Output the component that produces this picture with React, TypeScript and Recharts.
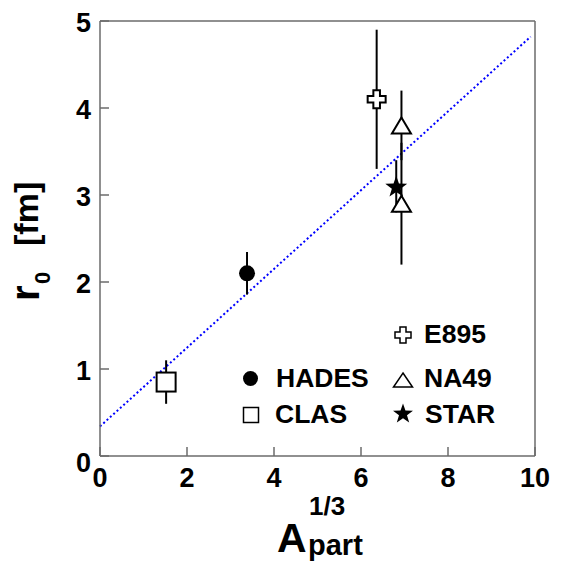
import React from 'react';
import { ScatterChart, Scatter, XAxis, YAxis, ErrorBar, ReferenceLine } from 'recharts';

// measured points, r0 [fm] vs A_part^(1/3)
const CLAS_X = [1.52];
const CLAS_Y = [0.85];
const CLAS_ERR = [0.25];

const HADES_X = [3.38];
const HADES_Y = [2.1];
const HADES_ERR = [0.245];

const E895_X = [6.36];
const E895_Y = [4.1];
const E895_ERR = [0.8];

const NA49_X = [6.93, 6.93];
const NA49_Y = [3.8, 2.9];
const NA49_ERR = [0.4, 0.7];

const STAR_X = [6.81];
const STAR_Y = [3.1];
const STAR_ERR = [0.3];

// linear fit endpoints
const FIT_X = [0, 9.9];
const FIT_Y = [0.34, 4.82];

const X_TICKS = [0, 2, 4, 6, 8, 10];
const Y_TICKS = [0, 1, 2, 3, 4, 5];

const FONT = '"Liberation Sans", Arial, Helvetica, sans-serif';
const FRAME = '#6b6b6b';

const zip = (xs: number[], ys: number[], errs: number[]) =>
  xs.map((x, i) => ({ x, y: ys[i], err: errs[i] }));

// marker shapes
const Dot = ({ cx, cy, r = 8 }: any) => <circle cx={cx} cy={cy} r={r} fill="black" />;

const Square = ({ cx, cy, s = 19, sw = 2 }: any) => (
  <rect x={cx - s / 2} y={cy - s / 2} width={s} height={s} fill="white" stroke="black" strokeWidth={sw} />
);

const Cross = ({ cx, cy, s = 9, a = 3.3, sw = 2 }: any) => {
  const p = [
    [-a, -s], [a, -s], [a, -a], [s, -a], [s, a], [a, a],
    [a, s], [-a, s], [-a, a], [-s, a], [-s, -a], [-a, -a],
  ].map(([dx, dy]) => `${cx + dx},${cy + dy}`).join(' ');
  return <polygon points={p} fill="white" stroke="black" strokeWidth={sw} />;
};

const Triangle = ({ cx, cy, w = 19, h = 16, sw = 2 }: any) => (
  <polygon
    points={`${cx},${cy - h / 2} ${cx + w / 2},${cy + h / 2} ${cx - w / 2},${cy + h / 2}`}
    fill="white"
    stroke="black"
    strokeWidth={sw}
  />
);

const Star = ({ cx, cy, ro = 11.5, ri = 4.6 }: any) => {
  const pts: string[] = [];
  for (let i = 0; i < 10; i++) {
    const r = i % 2 === 0 ? ro : ri;
    const ang = -Math.PI / 2 + (i * Math.PI) / 5;
    pts.push(`${cx + r * Math.cos(ang)},${cy + 1 + r * Math.sin(ang)}`);
  }
  return <polygon points={pts.join(' ')} fill="black" />;
};

const XTick = ({ x, y, payload }: any) => (
  <g>
    <line x1={x} y1={y} x2={x} y2={y - 9} stroke={FRAME} strokeWidth={1.5} />
    <text x={x} y={y + 31} textAnchor="middle" fontFamily={FONT} fontWeight="bold" fontSize={27} fill="black">
      {payload.value}
    </text>
  </g>
);

const YTick = ({ x, y, payload }: any) => (
  <g>
    <line x1={x} y1={y} x2={x + 9} y2={y} stroke={FRAME} strokeWidth={1.5} />
    <text
      x={x - 9}
      y={y + (payload.value === 0 ? 6 : 1)}
      dy="0.36em"
      textAnchor="end"
      fontFamily={FONT}
      fontWeight="bold"
      fontSize={27}
      fill="black"
    >
      {payload.value}
    </text>
  </g>
);

const legendText = { fontFamily: FONT, fontWeight: 'bold' as const, fontSize: 26.5, fill: 'black' };

const Overlay = () => (
  <svg width={562} height={574} style={{ position: 'absolute', left: 0, top: 0, pointerEvents: 'none' }}>
    {/* legend */}
    <Cross cx={403} cy={335} s={8} a={3} sw={1.5} />
    <text x={424} y={343} {...legendText}>E895</text>
    <Dot cx={250.5} cy={378.5} r={7.5} />
    <text x={276} y={387} {...legendText}>HADES</text>
    <Triangle cx={403} cy={380} w={19} h={14} sw={1.5} />
    <text x={424} y={387} {...legendText}>NA49</text>
    <Square cx={251} cy={415} s={15} sw={1.5} />
    <text x={275} y={423} {...legendText}>CLAS</text>
    <Star cx={403} cy={413} ro={10.5} ri={4.2} />
    <text x={425} y={423} {...legendText}>STAR</text>

    {/* y title */}
    <text transform="translate(39,301) rotate(-90)" fontFamily={FONT} fontWeight="bold" fontSize={40}>r</text>
    <text transform="translate(50,284) rotate(-90)" fontFamily={FONT} fontWeight="bold" fontSize={22}>0</text>
    <text transform="translate(38,246) rotate(-90)" fontFamily={FONT} fontWeight="bold" fontSize={34}>[fm]</text>

    {/* x title */}
    <text x={277} y={552} fontFamily={FONT} fontWeight="bold" fontSize={41}>A</text>
    <text x={309} y={515} fontFamily={FONT} fontWeight="bold" fontSize={26}>1/3</text>
    <text x={308} y={555} fontFamily={FONT} fontWeight="bold" fontSize={29}>part</text>
  </svg>
);

export default function App() {
  const clas = zip(CLAS_X, CLAS_Y, CLAS_ERR);
  const hades = zip(HADES_X, HADES_Y, HADES_ERR);
  const e895 = zip(E895_X, E895_Y, E895_ERR);
  const na49 = zip(NA49_X, NA49_Y, NA49_ERR);
  const star = zip(STAR_X, STAR_Y, STAR_ERR);
  const fitSegment = FIT_X.map((x, i) => ({ x, y: FIT_Y[i] }));

  return (
    <div style={{ position: 'absolute', left: 0, top: 0, width: 562, height: 574, background: 'white' }}>
      <ScatterChart width={562} height={574} margin={{ top: 21, right: 27, bottom: 88, left: 40 }}>
        <XAxis
          type="number"
          dataKey="x"
          domain={[0, 10]}
          ticks={X_TICKS}
          height={30}
          tickSize={0}
          tickMargin={0}
          tickLine={false}
          axisLine={{ stroke: FRAME, strokeWidth: 1.5 }}
          tick={<XTick />}
          allowDataOverflow
        />
        <YAxis
          type="number"
          dataKey="y"
          domain={[0, 5]}
          ticks={Y_TICKS}
          width={60}
          tickSize={0}
          tickMargin={0}
          tickLine={false}
          axisLine={{ stroke: FRAME, strokeWidth: 1.5 }}
          tick={<YTick />}
          allowDataOverflow
        />
        <ReferenceLine y={5} stroke={FRAME} strokeWidth={1.5} />
        <ReferenceLine x={10} stroke={FRAME} strokeWidth={1.5} />
        <ReferenceLine
          segment={fitSegment}
          stroke="#0000ff"
          strokeWidth={2}
          strokeDasharray="2 2.5"
          ifOverflow="visible"
        />
        <Scatter data={clas} isAnimationActive={false} shape={(p: any) => <Square cx={p.cx} cy={p.cy} />}>
          <ErrorBar dataKey="err" direction="y" width={0} stroke="black" strokeWidth={2} />
        </Scatter>
        <Scatter data={hades} isAnimationActive={false} shape={(p: any) => <Dot cx={p.cx} cy={p.cy} />}>
          <ErrorBar dataKey="err" direction="y" width={0} stroke="black" strokeWidth={2} />
        </Scatter>
        <Scatter data={e895} isAnimationActive={false} shape={(p: any) => <Cross cx={p.cx} cy={p.cy} />}>
          <ErrorBar dataKey="err" direction="y" width={0} stroke="black" strokeWidth={2} />
        </Scatter>
        <Scatter data={na49} isAnimationActive={false} shape={(p: any) => <Triangle cx={p.cx} cy={p.cy} />}>
          <ErrorBar dataKey="err" direction="y" width={0} stroke="black" strokeWidth={2} />
        </Scatter>
        <Scatter data={star} isAnimationActive={false} shape={(p: any) => <Star cx={p.cx} cy={p.cy} />}>
          <ErrorBar dataKey="err" direction="y" width={0} stroke="black" strokeWidth={2} />
        </Scatter>
      </ScatterChart>
      <Overlay />
    </div>
  );
}
